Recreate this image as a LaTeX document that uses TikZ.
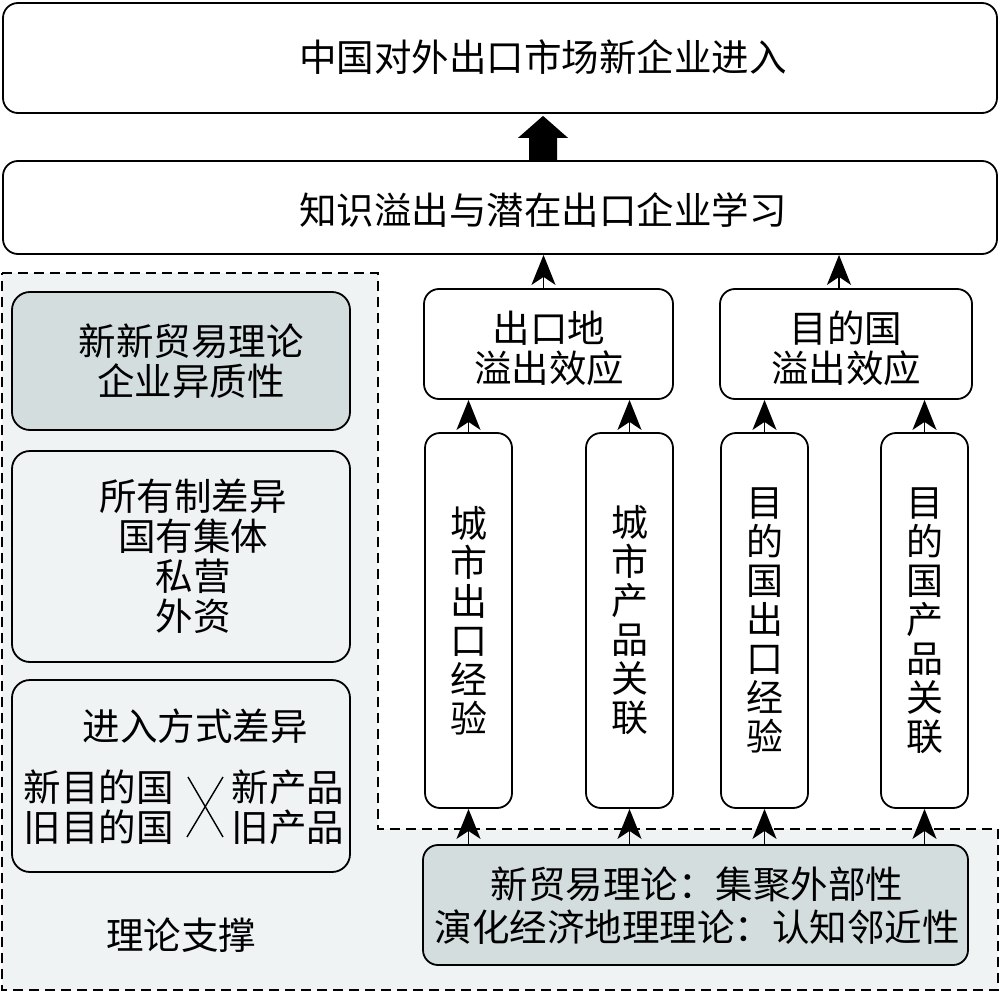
\documentclass[tikz,border=0pt]{standalone}
\usepackage{fontspec}
\setmainfont{Noto Sans CJK SC}
\usetikzlibrary{arrows.meta,calc}
\definecolor{regionbg}{HTML}{EFF3F3}
\definecolor{theorybg}{HTML}{D3DDDD}
\newcommand\diagfont{\fontsize{37.5pt}{40pt}\selectfont}
\newcommand\vertfont{\fontsize{37pt}{39pt}\selectfont}
\begin{document}
\begin{tikzpicture}[x=1pt,y=-1pt,
  every node/.style={font=\diagfont, inner sep=0pt, align=center},
  boxstyle/.style={draw, line width=1.8pt, rounded corners=15pt},
  arr/.style={line width=1.8pt, -{Stealth[length=30pt,width=24pt,inset=8pt]}},
  regionline/.style={line width=2.5pt, dash pattern=on 10pt off 6pt}]
\useasboundingbox (0,0) rectangle (1000,992);
% dashed theory region
\draw[regionline, fill=regionbg] (2,273) -- (378,273) -- (378,829) -- (998,829) -- (998,990) -- (2,990) -- cycle;
% top boxes
\node[boxstyle, minimum width=994pt, minimum height=110pt] (top) at (500,58) {};
\node (toptxt) at (543,57) {中国对外出口市场新企业进入};
\node[boxstyle, minimum width=994pt, minimum height=93pt] (mid) at (500,207.5) {};
\node (midtxt) at (543,210) {知识溢出与潜在出口企业学习};
% spillover boxes
\node[boxstyle, fill=white, minimum width=249pt, minimum height=110pt] (src) at (548.5,344) {};
\node (srctxt) at (549,348) {出口地\\溢出效应};
\node[boxstyle, fill=white, minimum width=252pt, minimum height=110pt] (dst) at (846,344) {};
\node (dsttxt) at (846,348) {目的国\\溢出效应};
% vertical boxes
\node[boxstyle, fill=white, minimum width=87pt, minimum height=375pt, font=\vertfont] (v1) at (468.5,620.5) {城\\市\\出\\口\\经\\验};
\node[boxstyle, fill=white, minimum width=87pt, minimum height=375pt, font=\vertfont] (v2) at (629.5,620.5) {城\\市\\产\\品\\关\\联};
\node[boxstyle, fill=white, minimum width=87pt, minimum height=375pt, font=\vertfont] (v3) at (764.5,620.5) {目\\的\\国\\出\\口\\经\\验};
\node[boxstyle, fill=white, minimum width=87pt, minimum height=375pt, font=\vertfont] (v4) at (924.5,620.5) {目\\的\\国\\产\\品\\关\\联};
% bottom theory box
\node[boxstyle, fill=theorybg, minimum width=545pt, minimum height=120pt] (ntt) at (695.5,905) {};
\node[font=\fontsize{37.5pt}{43pt}\selectfont] (ntttxt) at (697,906) {新贸易理论：集聚外部性\\演化经济地理理论：认知邻近性};
% left boxes
\node[boxstyle, rounded corners=18pt, fill=theorybg, minimum width=338pt, minimum height=138pt] (b1) at (181,361) {};
\node (b1txt) at (191,361.5) {新新贸易理论\\企业异质性};
\node[boxstyle, rounded corners=18pt, fill=regionbg, minimum width=338pt, minimum height=211pt] (b2) at (181,556.5) {};
\node (b2txt) at (193,556) {所有制差异\\国有集体\\私营\\外资};
\node[boxstyle, rounded corners=18pt, fill=regionbg, minimum width=338pt, minimum height=192pt] (b3) at (181,776) {};
\node (b3a) at (195,726) {进入方式差异};
\node (b3b) at (98.5,807.5) {新目的国\\旧目的国};
\node (b3c) at (288,807.5) {新产品\\旧产品};
\draw[line width=1.4pt] (188,777) -- (223,837);
\draw[line width=1.4pt] (223,777) -- (187,837);
\node (support) at (181,935) {理论支撑};
% big arrow
\coordinate (ab) at (toptxt |- mid.north);
\coordinate (at) at (toptxt |- top.south);
\fill ($(ab)+(-14,0)$) -- ($(at)+(-14,24)$) -- ($(at)+(-25,24)$) -- ($(at)+(0,2)$) -- ($(at)+(25,24)$) -- ($(at)+(14,24)$) -- ($(ab)+(14,0)$) -- cycle;
% arrows
\draw[arr] ([xshift=-5pt]src.north) -- ([xshift=-5pt]src.north |- mid.south);
\draw[arr] ([xshift=-7pt]dst.north) -- ([xshift=-7pt]dst.north |- mid.south);
\draw[arr] (v1.north) -- (v1.north |- src.south);
\draw[arr] (v2.north) -- (v2.north |- src.south);
\draw[arr] (v3.north) -- (v3.north |- dst.south);
\draw[arr] (v4.north) -- (v4.north |- dst.south);
\draw[arr] (v1.south |- ntt.north) -- (v1.south);
\draw[arr] (v2.south |- ntt.north) -- (v2.south);
\draw[arr] (v3.south |- ntt.north) -- (v3.south);
\draw[arr] (v4.south |- ntt.north) -- (v4.south);
\end{tikzpicture}
\end{document}
